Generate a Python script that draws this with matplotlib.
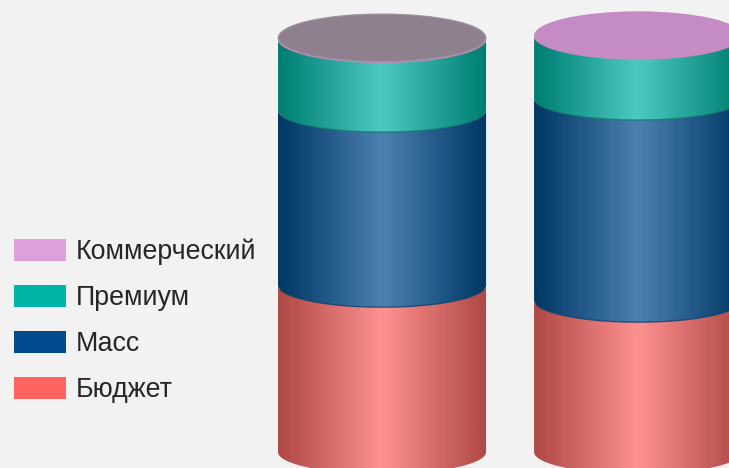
import numpy as np
import matplotlib
matplotlib.use("Agg")
import matplotlib.pyplot as plt
from matplotlib.colors import LinearSegmentedColormap
from matplotlib.patches import Ellipse, Patch, PathPatch
from matplotlib.path import Path

# Data (share of each segment, %)
groups = [0, 1]
budget = [40.1, 36.5]
mass = [42.1, 48.6]
premium = [16.9, 14.8]
commercial = [0.2, 0.2]
series_names = ["Бюджет", "Масс", "Премиум", "Коммерческий"]
series_values = [budget, mass, premium, commercial]
swatch_colors = ["#ff6461", "#004b8d", "#00b5a5", "#dda0dd"]
edge_colors = ["#b04a47", "#003866", "#007f73", "#9b709b"]
center_colors = ["#ff9191", "#4d81b0", "#4dcac0", "#c48bc4"]
line_colors = ["#b04a47", "#0b3f6e", "#0a7a6e", "#8a5f8a"]
top_colors = ["#8e808e", "#c48bc4"]

BG = "#f2f2f2"
BAR_W = 0.8125
RY = 5.3
RY_CAP = 5.83

fig = plt.figure(figsize=(7.29, 4.68), dpi=100, facecolor=BG)
ax = fig.add_axes([0, 0, 1, 1])
ax.set_facecolor(BG)
ax.set_axis_off()
XLIM = (-1.492, 1.355)
YLIM = (-3.85, 108.65)


def side_path(cx, r, y0, y1):
    t = np.linspace(np.pi, 2 * np.pi, 120)
    xs = cx + r * np.cos(t)
    low = y0 + RY * np.sin(t)
    up = y1 + RY * np.sin(t)
    verts = np.vstack([
        np.column_stack([xs, low]),
        np.column_stack([xs[::-1], up[::-1]]),
        [[xs[0], low[0]]],
    ])
    codes = [Path.MOVETO] + [Path.LINETO] * (len(verts) - 2) + [Path.CLOSEPOLY]
    return Path(verts, codes), xs, low


for g in groups:
    r = BAR_W / 2
    base = 0.0
    for k, vals in enumerate(series_values):
        v = vals[g]
        cmap = LinearSegmentedColormap.from_list(
            "c", [edge_colors[k], center_colors[k], edge_colors[k]], N=64)
        path, xs, low = side_path(g, r, base, base + v)
        im = ax.imshow(np.linspace(0, 1, 64)[None, :], cmap=cmap, aspect="auto",
                       extent=(g - r, g + r, base - RY, base + v),
                       interpolation="bilinear", zorder=2 + k)
        patch = PathPatch(path, transform=ax.transData, fc="none", ec="none")
        ax.add_patch(patch)
        im.set_clip_path(patch)
        if k > 0:
            # seam only across the visible front, stopping before the sides
            ax.plot(xs[8:-8], low[8:-8], color=line_colors[k], lw=0.9, alpha=0.85,
                    solid_capstyle="butt", zorder=2 + k + 0.5)
        base += v
    # top cap
    ax.add_patch(Ellipse((g, base), 2 * r, 2 * RY_CAP, fc=center_colors[3], ec="none", zorder=8))
    if top_colors[g] != center_colors[3]:
        ax.add_patch(Ellipse((g, base + 0.25), 2 * r * 0.997, 2 * RY_CAP * 0.98,
                             fc=top_colors[g], ec="#9c919c", lw=0.9, zorder=9))

ax.set_xlim(*XLIM)
ax.set_ylim(*YLIM)

handles = [Patch(fc=c, ec="none", label=n) for c, n in zip(swatch_colors, series_names)][::-1]
FS_PX = 26.8
leg = ax.legend(handles=handles, loc="upper left", bbox_to_anchor=(14 / 729, 1 - 238.5 / 468),
                bbox_transform=ax.transAxes, frameon=False, borderaxespad=0, borderpad=0,
                prop={"family": "Liberation Sans", "size": FS_PX * 0.72},
                handlelength=52 / FS_PX, handleheight=0.86,
                handletextpad=10 / FS_PX, labelspacing=20 / FS_PX)
for t in leg.get_texts():
    t.set_color("#262626")

fig.savefig("out.png", dpi=100, facecolor=BG)
